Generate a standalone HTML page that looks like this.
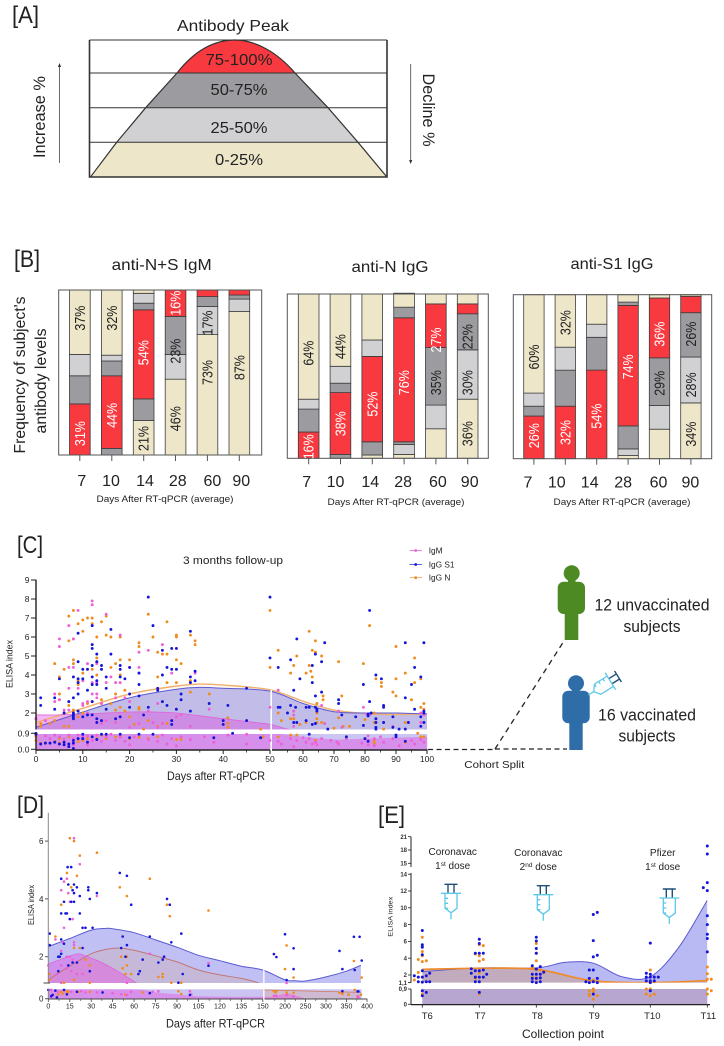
<!DOCTYPE html>
<html lang="en">
<head>
<meta charset="utf-8">
<title>Antibody kinetics figure</title>
<style>
html,body{margin:0;padding:0;background:#fff;width:724px;height:1046px;overflow:hidden}
svg{display:block;filter:blur(0.3px)}
text{font-family:"Liberation Sans",sans-serif;fill:#222}
</style>
</head>
<body>
<svg id="fig" xmlns="http://www.w3.org/2000/svg" width="724" height="1046" viewBox="0 0 724 1046">
<rect width="724" height="1046" fill="#fff"/>
<defs>
<clipPath id="bell"><path d="M90.7,176.7 L116.7,142.3 L145.7,107.7 L177,73 C195,50 215,40 235,40 C255,40 277,52 295,73 L328,107.7 L358,142.3 L386.7,176.7 Z"/></clipPath>
<clipPath id="cUpper"><rect x="36" y="570" width="392" height="159.5"/></clipPath>
<clipPath id="cLower"><rect x="36" y="734" width="392" height="15.5"/></clipPath>
<clipPath id="dUpper"><rect x="48" y="810" width="314" height="173"/></clipPath>
<clipPath id="dLower"><rect x="48" y="989.3" width="314" height="9.4"/></clipPath>
<clipPath id="eUpper"><rect x="422.3" y="835" width="285" height="147.6"/></clipPath>
</defs>

<g>
<text x="12" y="23" font-size="24" textLength="27" lengthAdjust="spacingAndGlyphs">[A]</text>
<text x="233" y="31" font-size="16" text-anchor="middle" textLength="112" lengthAdjust="spacingAndGlyphs">Antibody Peak</text>
<g clip-path="url(#bell)">
<rect x="89" y="40" width="299" height="33" fill="#f83a40"/>
<rect x="89" y="73" width="299" height="34.7" fill="#9c9ca0"/>
<rect x="89" y="107.7" width="299" height="34.6" fill="#d1d1d3"/>
<rect x="89" y="142.3" width="299" height="35" fill="#ede6c9"/>
</g>
<g stroke="#333" stroke-width="1" fill="none">
<path d="M89.5,73H387M89.5,107.7H387M89.5,142.3H387M89.5,40H387"/>
<path stroke-width="1.2" d="M90.7,176.7 L116.7,142.3 L145.7,107.7 L177,73 C195,50 215,40 235,40 C255,40 277,52 295,73 L328,107.7 L358,142.3 L386.7,176.7"/>
<path stroke-width="1.6" d="M89.5,40V177H387V40"/>
</g>
<text x="239" y="65" font-size="16" text-anchor="middle" textLength="67" lengthAdjust="spacingAndGlyphs">75-100%</text>
<text x="239" y="95" font-size="16" text-anchor="middle" textLength="57" lengthAdjust="spacingAndGlyphs">50-75%</text>
<text x="239" y="133" font-size="16" text-anchor="middle" textLength="57" lengthAdjust="spacingAndGlyphs">25-50%</text>
<text x="239" y="165" font-size="16" text-anchor="middle" textLength="48" lengthAdjust="spacingAndGlyphs">0-25%</text>
<text transform="translate(45,117) rotate(-90)" font-size="17" text-anchor="middle" textLength="82" lengthAdjust="spacingAndGlyphs">Increase %</text>
<text transform="translate(423,110) rotate(90)" font-size="17" text-anchor="middle" textLength="73" lengthAdjust="spacingAndGlyphs">Decline %</text>
<path d="M59.5,163V65" stroke="#444" stroke-width=".8" fill="none"/>
<path d="M59.5,63l-1.6,4h3.2z" fill="#333"/>
<path d="M410.7,64V162" stroke="#444" stroke-width=".8" fill="none"/>
<path d="M410.7,164l-1.6,-4h3.2z" fill="#333"/>
</g>

<g>
<text x="14" y="267" font-size="24" textLength="26" lengthAdjust="spacingAndGlyphs">[B]</text>
<text x="161.7" y="270" font-size="16" text-anchor="middle" textLength="100" lengthAdjust="spacingAndGlyphs">anti-N+S IgM</text>
<text x="390" y="272" font-size="16" text-anchor="middle" textLength="77" lengthAdjust="spacingAndGlyphs">anti-N IgG</text>
<text x="612" y="269" font-size="16" text-anchor="middle" textLength="83" lengthAdjust="spacingAndGlyphs">anti-S1 IgG</text>
<text transform="translate(25,375) rotate(-90)" font-size="16" text-anchor="middle" textLength="157" lengthAdjust="spacingAndGlyphs">Frequency of subject's</text>
<text transform="translate(46,381) rotate(-90)" font-size="16" text-anchor="middle" textLength="105" lengthAdjust="spacingAndGlyphs">antibody levels</text>
<text x="165" y="502" font-size="9.5" fill="#444" text-anchor="middle" textLength="137" lengthAdjust="spacingAndGlyphs">Days After RT-qPCR (average)</text>
<text x="396" y="505" font-size="9.5" text-anchor="middle" textLength="137" lengthAdjust="spacingAndGlyphs">Days After RT-qPCR (average)</text>
<text x="622" y="505" font-size="9.5" text-anchor="middle" textLength="137" lengthAdjust="spacingAndGlyphs">Days After RT-qPCR (average)</text>
<g id="stacks"></g>
</g>

<g>
<text x="17" y="553" font-size="24" textLength="26" lengthAdjust="spacingAndGlyphs">[C]</text>
<text x="233" y="564" font-size="11" text-anchor="middle" textLength="100" lengthAdjust="spacingAndGlyphs">3 months follow-up</text>
<text transform="translate(12.5,664) rotate(-90)" font-size="9" text-anchor="middle" textLength="48" lengthAdjust="spacingAndGlyphs">ELISA index</text>
<text x="216" y="780" font-size="12" text-anchor="middle" textLength="98" lengthAdjust="spacingAndGlyphs">Days after RT-qPCR</text>
<g id="chartC"></g>
<g>
<g><path d="M409.5,550.5H422" stroke="#e86fd8" stroke-width=".8"/><circle cx="415.7" cy="550.5" r="1.4" fill="#ee5fd8"/><text x="428.7" y="553.3" font-size="8.3">IgM</text></g>
<g><path d="M409.5,564.5H422" stroke="#3a3ad8" stroke-width=".8"/><circle cx="415.7" cy="564.5" r="1.4" fill="#1414dc"/><text x="428.7" y="567.3" font-size="8.3">IgG S1</text></g>
<g><path d="M409.5,577.7H422" stroke="#f0a050" stroke-width=".8"/><circle cx="415.7" cy="577.7" r="1.4" fill="#f08c1e"/><text x="428.7" y="580.5" font-size="8.3">IgG N</text></g>
</g>
</g>

<g>
<path d="M428,749.5H495" stroke="#222" stroke-width="1.3" stroke-dasharray="5 3.5" fill="none"/>
<path d="M495,749H567" stroke="#222" stroke-width="1.3" stroke-dasharray="5 3.5" fill="none"/>
<path d="M495,749L562.7,643" stroke="#222" stroke-width="1.3" stroke-dasharray="5.5 4.5" fill="none"/>
<text x="494.3" y="768" font-size="10.5" text-anchor="middle" textLength="60" lengthAdjust="spacingAndGlyphs">Cohort Split</text>
<g fill="#4e8a24">
<circle cx="571.7" cy="573.3" r="8"/><rect x="568" y="578" width="7.5" height="6"/><rect x="557.7" y="581.7" width="27.3" height="32.3" rx="6"/><rect x="564.7" y="605" width="13.6" height="35"/>
</g>
<g fill="#2e6da8">
<circle cx="576" cy="683.3" r="8"/><rect x="572" y="688" width="7.5" height="6"/><rect x="562.3" y="690.7" width="27.4" height="32.6" rx="6"/><rect x="569.3" y="715" width="13.4" height="35"/>
</g>
<text x="652" y="610.7" font-size="16.5" text-anchor="middle" textLength="115" lengthAdjust="spacingAndGlyphs">12 unvaccinated</text>
<text x="652" y="632" font-size="16.5" text-anchor="middle" textLength="57" lengthAdjust="spacingAndGlyphs">subjects</text>
<text x="647" y="720.7" font-size="16.5" text-anchor="middle" textLength="98" lengthAdjust="spacingAndGlyphs">16 vaccinated</text>
<text x="647" y="741.7" font-size="16.5" text-anchor="middle" textLength="57" lengthAdjust="spacingAndGlyphs">subjects</text>
<g id="syringeC"></g>
</g>

<g>
<text x="17" y="813" font-size="24" textLength="27" lengthAdjust="spacingAndGlyphs">[D]</text>
<text transform="translate(34,905) rotate(-90)" font-size="8" fill="#444" text-anchor="middle" textLength="40" lengthAdjust="spacingAndGlyphs">ELISA index</text>
<text x="215.5" y="1027.7" font-size="12" text-anchor="middle" textLength="99" lengthAdjust="spacingAndGlyphs">Days after RT-qPCR</text>
<g id="chartD"></g>
</g>

<g>
<text x="378" y="823" font-size="24" textLength="27" lengthAdjust="spacingAndGlyphs">[E]</text>
<text transform="translate(392.7,916.7) rotate(-90)" font-size="6.5" fill="#444" text-anchor="middle" textLength="40" lengthAdjust="spacingAndGlyphs">ELISA index</text>
<text x="563" y="1038" font-size="12" text-anchor="middle" textLength="82" lengthAdjust="spacingAndGlyphs">Collection point</text>
<g id="chartE"></g>
<text font-size="10" text-anchor="middle"><tspan x="452.7" y="855">Coronavac</tspan><tspan x="452.7" y="869">1<tspan font-size="6.5" dy="-3">st</tspan><tspan dy="3"> dose</tspan></tspan></text>
<text font-size="10" text-anchor="middle"><tspan x="538.3" y="856">Coronavac</tspan><tspan x="538.3" y="870">2<tspan font-size="6.5" dy="-3">nd</tspan><tspan dy="3"> dose</tspan></tspan></text>
<text font-size="10" text-anchor="middle"><tspan x="662.7" y="856">Pfizer</tspan><tspan x="662.7" y="870">1<tspan font-size="6.5" dy="-3">st</tspan><tspan dy="3"> dose</tspan></tspan></text>
<g id="syringesE"></g>
</g>
</svg>

<script>
/* ---------- Panel B data (levels: low 0-25, mid 25-50, high 50-75, peak 75-100) ---------- */
const barDays = ['7','10','14','28','60','90'];
const igmStacks = [
 [['peak',31],['high',17],['mid',13],['low',39]],
 [['high',4],['peak',44],['high',9],['mid',3.5],['low',39.5]],
 [['low',21],['high',13],['peak',54],['high',4],['mid',6],['low',2]],
 [['low',46],['mid',15],['high',23],['peak',16]],
 [['low',73],['mid',17],['high',6],['peak',4]],
 [['low',87],['mid',7.5],['high',2.5],['peak',3]]
];
const igmLabels = [['31%',13],['37%',83],['44%',24],['32%',83],['21%',10],['54%',62],['46%',22],['23%',63],['16%',92],['73%',50],['17%',80],['87%',53]];
const igmLabelBars = [0,0,1,1,2,2,3,3,3,4,4,5];
const antiNStacks = [
 [['peak',16],['high',14],['mid',6],['low',64]],
 [['high',2.4],['peak',37.6],['high',5.7],['mid',10.3],['low',44]],
 [['low',2],['high',8],['peak',52],['mid',10],['low',28]],
 [['low',2.4],['mid',6],['high',1.6],['peak',75.5],['high',6.5],['low',8.5]],
 [['low',18],['mid',14.4],['high',35],['peak',26.6],['low',6]],
 [['low',36],['mid',30],['high',22],['peak',6],['low',6]]
];
const antiNLabels = [['16%',7],['64%',64],['38%',21],['44%',68],['52%',33],['76%',46],['35%',46],['27%',72],['36%',15],['30%',46],['22%',74]];
const antiNLabelBars = [0,0,1,1,2,3,4,4,5,5,5];
const antiS1Stacks = [
 [['peak',26],['high',6],['mid',8],['low',60]],
 [['peak',32],['high',22],['mid',14],['low',32]],
 [['peak',54],['high',20],['mid',8],['low',18]],
 [['low',2],['mid',4],['high',14],['peak',73.5],['high',2],['low',4.5]],
 [['low',18],['mid',14.5],['high',29],['peak',36.5],['low',2]],
 [['low',34],['mid',28],['high',27],['peak',10],['low',1]]
];
const antiS1Labels = [['26%',14],['60%',62],['32%',16],['32%',83],['54%',26],['74%',56],['29%',46],['36%',76],['34%',15],['28%',45],['26%',76]];
const antiS1LabelBars = [0,0,1,1,2,3,4,4,5,5,5];

/* ---------- Panel C data ---------- */
const cXTicks = [0,10,20,30,40,50,60,70,80,90,100];
const cYTicks = [0,0.9,2,3,4,5,6,7,8,9];
const cYTickLabels = ['0.0','0.9','2','3','4','5','6','7','8','9'];
const cCurveDays = [0,10,20,30,35,40,50,60,70,80,90,100];
const cS1Curve = [1.25,2.05,2.8,3.25,3.35,3.3,3.15,2.5,2.07,2.0,2.0,1.95];
const cNCurve = [1.5,2.25,3.0,3.42,3.52,3.47,3.22,2.62,2.15,1.98,1.92,1.96];
const cIgMDays = [0,5,10,20,25,30,40,50,55,62];
const cIgMCurve = [1.9,1.9,1.95,2.05,2.05,2.0,1.7,1.4,1.15,0.95];
const cIgMLowDays = [0,50,52,60,70,80,100];
const cIgMLow = [0.9,0.9,0.88,0.7,0.55,0.6,0.7];
const cS1Points = [[1,2.8],[1,2.4],[4,2.8],[4,2.2],[5,3.8],[6,2],[7,2.6],[8,3.9],[8,2.8],[8,2],[8,1.9],[8,1.8],[8,1.7],[9,6.2],[9,4.7],[9,3.8],[9,3],[9,2.1],[9,3.6],[10,3.8],[10,1.8],[10,4.3],[11,4.3],[11,3.2],[11,1.9],[12,6.6],[12,5.6],[12,5.4],[12,4.5],[12,3.9],[12,3.5],[12,2.6],[12,1.9],[13,5.1],[13,4.7],[13,3.7],[13,3.5],[13,1.7],[13,1.5],[14,4.5],[14,4.3],[14,1.6],[15,3.9],[15,3.3],[15,2.2],[16,6.4],[16,5.1],[17,1.7],[18,4.5],[18,4.3],[18,3.9],[18,1.8],[19,3.8],[20,4.4],[20,3],[20,2.3],[22,4.1],[22,3.5],[22,2.9],[23,1.9],[24,8.1],[24,2.3],[25,6.6],[26,3.3],[26,3.2],[27,5.3],[27,4],[27,2.6],[28,4.4],[28,2.4],[29,5.4],[29,4.3],[29,1.6],[29,1.4],[30,5.4],[30,4.3],[30,2.2],[31,2.7],[31,3],[33,6.3],[33,3.9],[33,3.6],[33,2.1],[34,4.2],[34,3.7],[37,2.5],[41,2.4],[45,3.3],[45,1.6],[40,1.6],[40,1.4],[50,8.1],[50,4.9],[52,4.4],[56,4.8],[58,5.9],[63,4.5],[64,5.1],[66,4.7],[67,5.7],[59,3.8],[63,3.6],[57,3.2],[64,2.9],[66,3.1],[71.5,2.7],[71.5,2.5],[72.5,1.9],[81.5,7.4],[79.5,3.5],[81.5,2.6],[83.5,4.0],[85.3,3.8],[86,2.4],[86,2.3],[93,5.7],[99,5.7],[96,4.4],[98,3.9],[95,3.5],[93,2.8],[96,2.2],[52.6,2.3],[52,2.3],[55,2],[56,2.4],[57.6,2.3],[57,1.5],[58,1.5],[61,2.3],[62,2.3],[64,2.3],[64.5,2.2],[64.5,2.1],[61,1.6],[63,1.4],[64,1.45],[68,1.15],[77,1.8],[79.5,1.35],[81,1.95],[81,1.85],[82,2],[83.5,1.7],[83.5,1.5],[83.5,1.25],[83.5,1.15],[86,1.5],[89,1.8],[89,1.25],[91,1.15],[93,1.15],[94,1.5],[98,1.8],[99,2.1],[99,2],[99,1.5],[98,1.3],[0,.9],[0,.85],[1,.3],[2,.35],[3,.35],[4,.4],[5,.3],[6,.25],[6,.4],[7,.15],[7,.3],[8,.05],[8,.35],[8,.5],[9,.6],[10,.6],[10,.85],[11,.4],[12,.7],[13,.55],[14,.85],[15,.85],[18,.85],[20,.65],[22,.85],[25,.85],[38,.65],[42,.9],[48,.65],[62,.85],[74,.7],[80,.6],[81,.45],[90,.7],[90,.8],[93,.45]];
const cNPoints = [[1,1.45],[4,4.6],[5,3],[5,3.9],[6,4.3],[8,7.4],[7,7.1],[7,5.8],[8,5.9],[9,6.7],[10,6.9],[10,6.3],[11,7],[12,7],[12,6.7],[13,6],[14,6.8],[15,7.1],[15,6.1],[16,6],[18,6],[8,4.8],[8,4.6],[9,3.7],[9,3.5],[10,4.1],[11,4.3],[12,4.3],[13,4.9],[13,4.7],[14,4.3],[13,4],[17,4.6],[18,4.8],[20,4.8],[18,4],[16,4.4],[22,5.7],[22,5.5],[24,7.2],[25,6],[26,5.2],[27,5.1],[28,6.8],[28,5.1],[30,6.1],[30,6],[30,4.8],[31,4.6],[33,6.1],[34,5.8],[34,5.6],[26,3.9],[28,3.6],[30,3.6],[33,3.7],[33,3.1],[37,3],[17,3],[19,3.2],[7,2.4],[8,2.15],[9,1.8],[10,2],[11,2.5],[12,2.6],[14,2.7],[14,2.5],[16,2.5],[17,2.15],[18,2.3],[19,2.1],[22,2.3],[22,2.2],[24,1.6],[26,1.3],[27,1.45],[28,1.45],[29,1.6],[30,1.8],[30,2.2],[23,1.15],[21,1.4],[20,1.8],[5,2.7],[6,1.3],[7,1.3],[8,1.7],[1,1.3],[3,1.45],[4,1.6],[0,1.7],[41,1.75],[41,1.45],[41,1.25],[48,1.15],[50,7.4],[50,4.4],[52,5.3],[58,5],[57,4.5],[56,4.1],[62,6.3],[64,5.8],[63,5.3],[64,5.2],[66,5],[62,4.5],[62.5,4.2],[63,3.9],[61,4.1],[71.5,4.7],[79.5,4.6],[81.5,6.6],[83.5,3.8],[85.3,3.6],[85.3,3.4],[90,5.5],[96,4.9],[90,3.8],[93,4.1],[98,3.8],[89,3.1],[90,2.9],[96,3.6],[95,2.7],[72.5,2.9],[66.5,2.9],[66.5,2.7],[64.5,2.5],[52,2],[56,1.7],[57,1.7],[53,1.6],[59,1.4],[61,1.5],[64.5,2],[64.5,1.7],[64.5,1.5],[66,1.5],[71.5,1.75],[70,1.2],[73,1.3],[75,1.3],[80,1.65],[83,2],[83,1.5],[86,1.15],[93,1.5],[98,2.3],[99,2.5],[99,2.2],[98,2],[0,.7],[0,.5],[1,.35],[2,.35],[4,.43],[5,.35],[5,.6],[6,.43],[7,.7],[8,.5],[9,.43],[10,.5],[11,.6],[12,.7],[13,.6],[14,.8],[15,.6],[17,.7],[18,.7],[20,.6],[22,.68],[24,.6],[26,.7],[30,.55],[31,.55],[48.5,.7],[52,.7],[56,.8],[58,.8],[64,.5],[74,.7],[80,.6],[83,.35],[83,.5],[93,.4],[97,.9],[98,.7],[99,.7]];
const cIgMPoints = [[12,7.9],[12,7.7],[9,7.4],[15,7.2],[5,5.9],[5,5.5],[7,6.6],[18,6.1],[8,5.9],[27,5.6],[24,5.3],[22,5.2],[7,4.4],[8,4.4],[7,3.3],[4,3],[5,2.7],[6,2.15],[9,3.3],[10,3.7],[11,4.6],[12,3.6],[13,4.6],[13,3.6],[15,3.6],[16,3.9],[17,3.6],[18,3.6],[22,4.4],[22,4.1],[20,4.4],[34,4.1],[29,4.1],[4,2.6],[10,2.5],[11,2.6],[10,2.4],[12,3],[13,3],[13,2.8],[14,2.5],[17,2.8],[19,2.8],[20,2.6],[24,2.1],[26,2.5],[27,1.45],[30,1.8],[31,1.9],[33,1.3],[37,2.2],[0,1.7],[2,1.6],[7,2.15],[8,2],[11,2],[12,1.9],[14,1.45],[15,1.6],[17,1.5],[20,1.25],[22,1.45],[25,1.5],[26,1.25],[57,2.1],[57,1.9],[50,2.3],[52,3.2],[66,2.4],[67,1.45],[71.5,2.1],[72.5,1.25],[57,1.3],[80.5,1.95],[81.5,1.9],[79.5,2.3],[98,1.5],[98,1.3],[89,1.3],[98,2],[99,1.9],[0,.8],[2,.75],[3,.6],[4,.8],[5,.7],[6,.55],[7,.8],[8,.6],[8,.25],[9,.8],[10,.7],[11,.25],[11,.75],[12,.5],[13,.8],[14,.45],[15,.7],[16,.85],[17,.5],[18,.7],[19,.45],[20,.25],[21,.7],[24,.55],[26,.45],[27,.8],[28,.3],[29,.6],[30,.2],[31,.7],[33,.55],[36,.7],[38,.4],[41,.8],[45,.3],[45,.85],[50,.5],[52,.45],[53,.3],[56,.6],[57,.15],[58,.5],[60,.65],[61,.4],[62,.6],[63,.3],[64,.4],[64.5,.25],[66,.6],[69,.5],[71,.4],[71.5,.3],[74,.6],[79,.35],[81,.75],[81,.5],[81,.25],[83,.6],[83,.2],[85,.7],[86,.4],[89,.6],[91,.2],[95,.5],[96,.3],[98,.55],[99,.4]];

/* ---------- Panel D data ---------- */
const dXTicksA = [0,15,30,45,60,75,90,105,120,135,150];
const dXTicksB = [200,250,300,350,400];
const dYTicks = [0,2,4,6];
const dS1Days = [0,15,30,40,45,60,75,90,105,120,135,150,200,225,250,300,350,385];
const dS1Curve = [2.35,2.63,2.92,2.98,2.97,2.83,2.58,2.33,2.05,1.86,1.67,1.54,1.2,1.17,1.16,1.3,1.5,1.7];
const dNDays = [0,15,30,40,50,60,75,90,105,120,135,147];
const dNCurve = [1.2,1.68,2.1,2.25,2.3,2.22,2.03,1.82,1.54,1.37,1.25,1.1];
const dIgMDays = [0,10,20,25,35,45,55,62];
const dIgMCurve = [1.75,1.93,2.1,2.05,1.85,1.6,1.3,1.08];
const dIgMLowDays = [0,60,75,90,105,150,175,200,221,250];
const dIgMLow = [0.75,0.75,0.5,0.35,0.2,0.15,0.2,0.4,0.3,0.02];
const dNLowDays = [150,385];
const dNLow = [0.7,0.5];
const dS1Points = [[1,2.8],[1,2.4],[9,2.6],[11,2.45],[9,3.5],[12,3.5],[13,3.5],[15,3.3],[9,4.7],[13.5,5.1],[16,5.1],[14,4.5],[18,4.5],[20,4.4],[17,4.3],[18,4.2],[16,3.9],[18,3.9],[11,3.9],[22,4.1],[22,3.5],[24,3],[26,3],[31,3],[28,4.4],[28,4.3],[29,4],[34,4.2],[50,4.9],[55,4.8],[58,3.8],[83,4],[85,3.8],[93,2.8],[52,2.7],[71,2.7],[55,2.4],[51,2.3],[24,2.3],[86,2.5],[54,2],[66,1.9],[81,2],[80,1.9],[77,1.8],[7,2],[8,2],[9,2.1],[20,1.8],[17,1.8],[14,1.7],[7,1.5],[29,1.5],[64,1.5],[63,1.4],[94,1.4],[91,1.1],[112,1.69],[200,2.78],[221,2.29],[173,2.09],[179,1.99],[221,1.57],[204,1.19],[333,2.2],[368,2.69],[382,2.69],[387,1.87],[340,1.57],[370,1.54],[0,.7],[5,.65],[2,.2],[3,.3],[6,.1],[11,.7],[13,.35],[20,.55],[38,.5],[71,.45],[99,.3],[340,.6],[377,.58],[379,.58]];
const dNPoints = [[15,6.1],[18,6],[22,5.5],[34,5.6],[20,4.8],[13,4.9],[16,4.4],[9,3.8],[5,2.7],[50,4.4],[55,4.1],[71,4.7],[83,3.8],[85,3.4],[18,2.3],[22,2.3],[51,2],[55,2],[26,1.9],[29,1.7],[55,1.7],[52,1.6],[1,1.4],[6,1.4],[54,1.4],[58,1.4],[80,1.4],[77,1.3],[80,1.3],[18,1.2],[1,1.2],[11,1.1],[29,1.1],[86,1.1],[93,1.1],[112,3.6],[204,2.39],[200,1.57],[221,1.28],[368,1.85],[387,1.28],[13,.6],[14,.55],[9,.55],[10,.4],[13,.4],[21,.55],[29,.55],[3,.3],[7,.35],[91,.6],[66,.5],[93,.38],[54,.32],[173,.6],[179,.58],[177,.52],[204,.5],[205,.35],[221,.48],[333,.48],[340,.4],[355,.32],[370,.7],[377,.16],[385,.32]];
const dIgMPoints = [[18,6.1],[22,5.2],[11,4.6],[13,4.7],[9,4.3],[14,4.2],[15,3.9],[17,3.3],[11,3],[34,4.1],[5,2.6],[18,2.5],[10,2.5],[9,2.2],[18,2.4],[13,2],[15,2],[17,1.9],[0,1.7],[9,1.7],[13,1.6],[16,1.5],[20,1.4],[24,1.4],[6,1.4],[9,1.1],[55,1.1],[71,2.1],[112,1.78],[204,1.09],[2,.7],[7,.55],[16,.55],[23,.6],[26,.5],[34,.5],[45,.45],[58,.55],[73,.55],[77,.6],[99,.6],[51,.35],[55,.3],[100,.35],[173,.24],[179,.24],[204,.3],[221,.2],[377,.2],[379,.13]];

/* ---------- Panel E data ---------- */
const eCategories = ['T6','T7','T8','T9','T10','T11'];
const eYTicks = [0,0.9,1.1,2,4,6,8,10,12,14,15,18,21];
const eYTickLabels = ['0','0,9','1,1','2','4','6','8','10','12','14','15','18','21'];
const eS1Positions = [0,1,2,2.5,3,3.5,4,4.5,5];
const eS1Curve = [2.4,2.85,2.85,3.5,3.4,1.8,1.8,5.3,10.9];
const eNPositions = [0,1,2,3,4,5];
const eNCurve = [2.67,2.8,2.67,1.3,1.1,1.33];
const eS1Points = [[0,7.3],[0,5.6],[0,5.3],[0,4.4],[0,2.5],[-.14,1.9],[-.07,1.75],[0,1.75],[.07,1.9],[.13,2.2],[-.07,1.2],[0,1.15],[.07,1.2],[.13,1.2],[0,.8],[.07,.7],[0,.5],
[1,6.25],[1,5.75],[.93,4.6],[1,4.6],[1.07,4.6],[.86,2.75],[.93,2.5],[1,2.5],[1.07,2.6],[.86,2.2],[1.13,2.1],[.93,1.75],[1,1.75],[1.07,1.75],[.93,1.2],[1,1.2],[1,.7],
[2,6.5],[2,6.05],[2,5.15],[2,4.6],[1.93,3.1],[2.07,3],[2,2.7],[1.93,2.1],[2,2.1],[2.07,2.1],[2.13,2.35],[1.93,1.6],[2,1.6],[2.07,1.65],[1.93,1.2],[2,1.1],[2.07,1.2],
[3.07,9.45],[3,9.2],[3,6.1],[3,4.15],[3.07,4.35],[2.93,2.6],[3,2.6],[2.93,1.6],[3.07,1.6],[3,1.2],[3.07,1.1],[2.87,1.2],[2.93,1.1],[3,.6],
[4,5.8],[3.93,2.2],[4,2.1],[3.93,1.75],[4,1.75],[4.07,1.75],[4.14,1.75],[3.93,1.3],[4,1.3],[4.07,1.3],[4,1.1],[4,.8],
[5,18.9],[5,17.1],[5,13],[4.93,12.4],[5,12.05],[5,9.05],[5,8],[5,6.85],[5,6.35],[5,4.75]];
const eNPoints = [[0,6.5],[0,5.4],[0,4.8],[0,4.3],[-.07,3.85],[0,3.6],[.07,3.7],[-.07,2.3],[-.14,1.4],[0,.6],
[1,5.6],[1.07,5.5],[.93,4.5],[1,4.3],[1.07,3.85],[1,3.65],[1,2.3],[.93,1.6],[1,.6],
[2,5.75],[2,4.6],[2,3.7],[1.93,2.85],[2.07,2.6],[2.13,2.3],[1.93,1.7],[2,1.65],[2,1.15],
[3,.9],[2.93,.8],[3,.75],[2.93,.6],[3,.3],[2.93,.5],[3.07,.5],[3,1.4],
[4,2.6],[3.93,.9],[4,.9],[3.93,.6],[4,.5],[4.07,.6],[4,1.15],[4.07,1.2],
[5,2.95],[5,2.15],[5,1.5],[5.07,1.5],[5,.9],[5.07,.8],[5,.6]];

/* ---------- drawing helpers ---------- */
const NS = 'http://www.w3.org/2000/svg';
function mk(parent, tag, attrs, name, txt){
  const el = document.createElementNS(NS, tag);
  for (const k in attrs) el.setAttribute(k, attrs[k]);
  
  
  if (txt !== undefined) el.textContent = txt;
  parent.appendChild(el);
  return el;
}
function smooth(pts){
  let d = 'M' + pts[0][0].toFixed(1) + ',' + pts[0][1].toFixed(1);
  for (let i = 0; i < pts.length - 1; i++){
    const p0 = pts[Math.max(0,i-1)], p1 = pts[i], p2 = pts[i+1], p3 = pts[Math.min(pts.length-1,i+2)];
    const c1x = p1[0] + (p2[0]-p0[0])/6, c1y = p1[1] + (p2[1]-p0[1])/6;
    const c2x = p2[0] - (p3[0]-p1[0])/6, c2y = p2[1] - (p3[1]-p1[1])/6;
    d += 'C' + c1x.toFixed(1) + ',' + c1y.toFixed(1) + ' ' + c2x.toFixed(1) + ',' + c2y.toFixed(1) + ' ' + p2[0].toFixed(1) + ',' + p2[1].toFixed(1);
  }
  return d;
}
function mapCurve(xs, ys, fx, fy){ return xs.map((x,i)=>[fx(x), fy(ys[i])]); }
function areaD(pts, base){ return smooth(pts) + 'L' + pts[pts.length-1][0].toFixed(1) + ',' + base + 'L' + pts[0][0].toFixed(1) + ',' + base + 'Z'; }
function dots(parent, points, fx, fy, color, name, r){
  points.forEach(p => { mk(parent, 'circle', {cx: fx(p[0]).toFixed(1), cy: fy(p[1]).toFixed(1), r: r, fill: color}, name); });
}

/* ---------- Panel B ---------- */
const levelColors = {low:'#ede6c9', mid:'#d1d1d3', high:'#9c9ca0', peak:'#f83a40'};
function drawStack(cfg){
  const root = document.getElementById('stacks');
  const g = mk(root, 'g', {}, cfg.name);
  const yS = v => cfg.bottom - v/100*(cfg.bottom-cfg.top);
  const xS = i => cfg.first + i*cfg.step;
  mk(g, 'rect', {x:cfg.left, y:cfg.top, width:cfg.right-cfg.left, height:cfg.bottom-cfg.top, fill:'#fff', stroke:'none'}, cfg.name + '-plot');
  cfg.stacks.forEach((st,i) => {
    let acc = 0;
    st.forEach(seg => {
      mk(g, 'rect', {x:xS(i).toFixed(1), y:yS(acc+seg[1]).toFixed(1), width:cfg.barW, height:(yS(acc)-yS(acc+seg[1])).toFixed(1), fill:levelColors[seg[0]], stroke:'#3c3c3c', 'stroke-width':0.8}, cfg.name + '-bar-' + cfg.days[i] + '-' + seg[0]);
      acc += seg[1];
    });
    mk(g, 'path', {d:'M'+(xS(i)+cfg.barW/2).toFixed(1)+','+cfg.bottom+'v6', stroke:'#555', 'stroke-width':1}, cfg.name + '-tick-' + cfg.days[i]);
    const lx = xS(i)+cfg.barW/2+cfg.labelDx[i];
    mk(g, 'text', {x:lx.toFixed(1), y:cfg.tickY, 'font-size':16, 'text-anchor':'middle'}, cfg.name + '-tick-label-' + cfg.days[i], cfg.days[i]);
  });
  mk(g, 'rect', {x:cfg.left, y:cfg.top, width:cfg.right-cfg.left, height:cfg.bottom-cfg.top, fill:'none', stroke:'#555', 'stroke-width':1}, cfg.name + '-frame');
  cfg.labels.forEach((l,k) => {
    const bar = cfg.labelBars[k];
    const peak = isOnPeak(cfg.stacks[bar], l[1]);
    const t = mk(g, 'text', {transform:'translate(' + (xS(bar)+cfg.barW/2+5).toFixed(1) + ',' + yS(l[1]).toFixed(1) + ') rotate(-90)', 'font-size':15, 'text-anchor':'middle', textLength:25, lengthAdjust:'spacingAndGlyphs'}, cfg.name + '-value-label', l[0]);
    t.style.fill = peak ? '#fff' : '#222';
  });
}
function isOnPeak(stack, at){
  let acc = 0;
  for (const seg of stack){
    if (at >= acc && at <= acc+seg[1]) return seg[0]==='peak';
    acc += seg[1];
  }
  return false;
}
drawStack({name:'igm-chart', days:barDays, stacks:igmStacks, labels:igmLabels, labelBars:igmLabelBars, left:58.7, right:261.7, top:290, bottom:455, first:69.5, step:31.9, barW:20.7, tickY:486, labelDx:[2,-0.7,1.3,2.3,5,2]});
drawStack({name:'anti-n-chart', days:barDays, stacks:antiNStacks, labels:antiNLabels, labelBars:antiNLabelBars, left:287.3, right:488.3, top:294, bottom:458.3, first:298.3, step:31.8, barW:20.7, tickY:487, labelDx:[-2,-5,-2,-1,2,2]});
drawStack({name:'anti-s1-chart', days:barDays, stacks:antiS1Stacks, labels:antiS1Labels, labelBars:antiS1LabelBars, left:513.3, right:711.7, top:294.7, bottom:458.7, first:523.7, step:31.4, barW:20.4, tickY:487.5, labelDx:[-6,-8.5,-7,-5,-1,-0.5]});

/* ---------- Panel C ---------- */
(function(){
  const g = document.getElementById('chartC');
  const xC = d => d<=50 ? 36 + d*4.68 : 272 + (d-50)*3.1;
  const yC = v => v>=1 ? 713 - (v-2)*19 : 749.3 - v*17.8;
  const upper = mk(g, 'g', {'clip-path':'url(#cUpper)'}, 'upper-band-areas');
  const lower = mk(g, 'g', {'clip-path':'url(#cLower)'}, 'lower-band-areas');
  mk(upper, 'path', {d:areaD(mapCurve(cCurveDays,cNCurve,xC,yC),760), fill:'rgba(240,170,80,.08)'}, 'igg-n-area');
  mk(upper, 'path', {d:areaD(mapCurve(cCurveDays,cS1Curve,xC,yC),760), fill:'rgba(80,75,215,.34)'}, 'igg-s1-area');
  mk(upper, 'path', {d:areaD(mapCurve(cIgMDays,cIgMCurve,xC,yC),760), fill:'rgba(225,70,225,.4)'}, 'igm-area');
  mk(lower, 'rect', {x:36, y:733, width:391.3, height:17, fill:'rgba(100,85,215,.34)'}, 'igg-lower-area');
  mk(lower, 'path', {d:areaD(mapCurve(cIgMLowDays,cIgMLow,xC,yC),760), fill:'rgba(230,70,225,.42)'}, 'igm-lower-area');
  mk(upper, 'path', {d:smooth(mapCurve(cCurveDays,cNCurve,xC,yC)), fill:'none', stroke:'#f0b070', 'stroke-width':1.4}, 'igg-n-line');
  mk(upper, 'path', {d:smooth(mapCurve(cCurveDays,cS1Curve,xC,yC)), fill:'none', stroke:'#5a5ad2', 'stroke-width':1}, 'igg-s1-line');
  mk(upper, 'path', {d:smooth(mapCurve(cIgMDays,cIgMCurve,xC,yC)), fill:'none', stroke:'#e060d8', 'stroke-width':.8}, 'igm-line');
  mk(g, 'rect', {x:270.4, y:690, width:1.6, height:60, fill:'#fff'}, 'x-axis-break');
  dots(g, cNPoints, xC, yC, '#f08c1e', 'igg-n-point', 1.45);
  dots(g, cIgMPoints, xC, yC, '#ee5fd8', 'igm-point', 1.45);
  dots(g, cS1Points, xC, yC, '#1414dc', 'igg-s1-point', 1.45);
  mk(g, 'path', {d:'M36,579.7V729.5M36,733V750.5', stroke:'#222', 'stroke-width':1.4, fill:'none'}, 'y-axis');
  mk(g, 'path', {d:'M36,750H270M272,750H427.5', stroke:'#222', 'stroke-width':1.4, fill:'none'}, 'x-axis');
  cYTicks.forEach((v,i)=>{
    mk(g, 'path', {d:'M31,'+yC(v).toFixed(1)+'H36', stroke:'#222', 'stroke-width':1}, 'y-tick');
    mk(g, 'text', {x:29.5, y:(yC(v)+3).toFixed(1), 'font-size':8.5, 'text-anchor':'end'}, 'y-tick-label', cYTickLabels[i]);
  });
  cXTicks.forEach(d=>{
    mk(g, 'path', {d:'M'+xC(d).toFixed(1)+',750v4', stroke:'#222', 'stroke-width':1}, 'x-tick');
    mk(g, 'text', {x:xC(d).toFixed(1), y:762, 'font-size':8.5, 'text-anchor':'middle'}, 'x-tick-label', d);
    if (d<100) mk(g, 'path', {d:'M'+xC(d+5).toFixed(1)+',750v2.5', stroke:'#222', 'stroke-width':.8}, 'x-minor-tick');
  });
})();

/* ---------- syringe ---------- */
function syringe(parent, cx, y0, transform, name){
  const s = mk(parent, 'g', transform ? {transform:transform} : {}, name);
  mk(s, 'path', {d:'M'+(cx-6.5)+','+y0+'h13M'+(cx-3)+','+y0+'v8.5M'+(cx+3)+','+y0+'v8.5', stroke:'#1f4f78', 'stroke-width':1.4, fill:'none'}, 'syringe-plunger');
  mk(s, 'path', {d:'M'+(cx-10)+','+(y0+9)+'h20M'+(cx-6)+','+(y0+9)+'v15l6,4.5l6,-4.5v-15M'+cx+','+(y0+28.5)+'v6.5M'+(cx-6)+','+(y0+14)+'h3M'+(cx-6)+','+(y0+19)+'h3M'+(cx-6)+','+(y0+24)+'h3', stroke:'#5cc8e8', 'stroke-width':1.3, fill:'none'}, 'syringe-barrel');
}
syringe(document.getElementById('syringeC'), 0, 0, 'translate(588.3,695) rotate(58) translate(0,-35)', 'vaccination-syringe');
(function(){
  const g = document.getElementById('syringesE');
  syringe(g, 451, 884.3, '', 'syringe-coronavac-dose-1');
  syringe(g, 543.3, 885.7, '', 'syringe-coronavac-dose-2');
  syringe(g, 669.3, 889, '', 'syringe-pfizer-dose-1');
})();

/* ---------- Panel D ---------- */
(function(){
  const g = document.getElementById('chartD');
  const xD = d => d<=150 ? 48.3 + d*1.43 : 264.5 + (d-150)*0.41;
  const yD = v => v>=1 ? 956.7 - (v-2)*28.9 : 998.7 - v*12.53;
  const upper = mk(g, 'g', {'clip-path':'url(#dUpper)'}, 'upper-band-areas');
  const lower = mk(g, 'g', {'clip-path':'url(#dLower)'}, 'lower-band-areas');
  mk(upper, 'path', {d:areaD(mapCurve(dS1Days,dS1Curve,xD,yD),1000), fill:'rgba(80,80,225,.36)'}, 'igg-s1-area');
  mk(upper, 'path', {d:areaD(mapCurve(dNDays,dNCurve,xD,yD),1000), fill:'rgba(230,150,90,.18)'}, 'igg-n-area');
  mk(upper, 'path', {d:areaD(mapCurve(dIgMDays,dIgMCurve,xD,yD),1000), fill:'rgba(235,70,225,.4)'}, 'igm-area');
  mk(lower, 'rect', {x:48.3, y:989, width:313.4, height:10, fill:'rgba(110,90,215,.36)'}, 'igg-lower-area');
  mk(lower, 'path', {d:areaD(mapCurve(dNLowDays,dNLow,xD,yD),1000), fill:'rgba(230,150,90,.2)'}, 'igg-n-lower-area');
  mk(lower, 'path', {d:areaD(mapCurve(dIgMLowDays,dIgMLow,xD,yD),1000), fill:'rgba(235,70,225,.4)'}, 'igm-lower-area');
  mk(lower, 'path', {d:smooth(mapCurve(dNLowDays,dNLow,xD,yD)), fill:'none', stroke:'#d07858', 'stroke-width':.8}, 'igg-n-lower-line');
  mk(upper, 'path', {d:smooth(mapCurve(dS1Days,dS1Curve,xD,yD)), fill:'none', stroke:'#5a5ad2', 'stroke-width':1}, 'igg-s1-line');
  mk(upper, 'path', {d:smooth(mapCurve(dNDays,dNCurve,xD,yD)), fill:'none', stroke:'#c07878', 'stroke-width':1}, 'igg-n-line');
  mk(upper, 'path', {d:smooth(mapCurve(dIgMDays,dIgMCurve,xD,yD)), fill:'none', stroke:'#e060d8', 'stroke-width':.7}, 'igm-line');
  mk(g, 'rect', {x:263.2, y:960, width:1.3, height:40, fill:'#fff'}, 'x-axis-break');
  dots(g, dNPoints, xD, yD, '#f08c1e', 'igg-n-point', 1.3);
  dots(g, dIgMPoints, xD, yD, '#ee5fd8', 'igm-point', 1.3);
  dots(g, dS1Points, xD, yD, '#1414dc', 'igg-s1-point', 1.3);
  mk(g, 'path', {d:'M48.3,812.7V983M48.3,989V999', stroke:'#888', 'stroke-width':1, fill:'none'}, 'y-axis');
  mk(g, 'path', {d:'M48.3,999H263M264.5,999H367.3', stroke:'#444', 'stroke-width':1, fill:'none'}, 'x-axis');
  mk(g, 'path', {d:'M43.5,983H50', stroke:'#444', 'stroke-width':1}, 'y-break-tick');
  dYTicks.forEach(v=>{
    mk(g, 'path', {d:'M45,'+yD(v).toFixed(1)+'H48.3', stroke:'#555', 'stroke-width':1}, 'y-tick');
    mk(g, 'text', {x:43.5, y:(yD(v)+3).toFixed(1), 'font-size':8, 'text-anchor':'end'}, 'y-tick-label', v);
  });
  dXTicksA.forEach(d=>{
    mk(g, 'path', {d:'M'+xD(d).toFixed(1)+',999v3', stroke:'#444', 'stroke-width':.8}, 'x-tick');
    mk(g, 'text', {x:xD(d).toFixed(1), y:1008.5, 'font-size':7, 'text-anchor':'middle'}, 'x-tick-label', d);
    if (d<150) mk(g, 'path', {d:'M'+xD(d+7.5).toFixed(1)+',999v2', stroke:'#444', 'stroke-width':.6}, 'x-minor-tick');
  });
  dXTicksB.forEach(d=>{
    mk(g, 'path', {d:'M'+xD(d).toFixed(1)+',999v3', stroke:'#444', 'stroke-width':.8}, 'x-tick');
    mk(g, 'text', {x:xD(d).toFixed(1), y:1008.5, 'font-size':7, 'text-anchor':'middle'}, 'x-tick-label', d);
    mk(g, 'path', {d:'M'+xD(d-25).toFixed(1)+',999v2', stroke:'#444', 'stroke-width':.6}, 'x-minor-tick');
  });
})();

/* ---------- Panel E ---------- */
(function(){
  const g = document.getElementById('chartE');
  const xE = c => 422.3 + c*57;
  const yE = v => v>=15 ? 863.3 - (v-15)*4.43 : v>=1 ? 975 - (v-2)*8.4 : 1004.3 - v*17;
  const upper = mk(g, 'g', {'clip-path':'url(#eUpper)'}, 'upper-band-areas');
  mk(upper, 'path', {d:areaD(mapCurve(eS1Positions,eS1Curve,xE,yE),990), fill:'rgba(80,80,225,.4)'}, 'igg-s1-area');
  mk(upper, 'path', {d:areaD(mapCurve(eNPositions,eNCurve,xE,yE),990), fill:'rgba(225,130,40,.26)'}, 'igg-n-area');
  mk(g, 'rect', {x:xE(0), y:989, width:xE(5)-xE(0), height:15, fill:'#b7a6d0'}, 'lower-band-area');
  mk(upper, 'path', {d:smooth(mapCurve(eS1Positions,eS1Curve,xE,yE)), fill:'none', stroke:'#5a5ad2', 'stroke-width':1}, 'igg-s1-line');
  mk(upper, 'path', {d:smooth(mapCurve(eNPositions,eNCurve,xE,yE)), fill:'none', stroke:'#f08a28', 'stroke-width':1.7}, 'igg-n-line');
  dots(g, eNPoints, xE, yE, '#f08c1e', 'igg-n-point', 1.5);
  dots(g, eS1Points, xE, yE, '#1414dc', 'igg-s1-point', 1.5);
  mk(g, 'path', {d:'M411,836.7V867M411,873V982.7M411,989V1004.5', stroke:'#222', 'stroke-width':1, fill:'none'}, 'y-axis');
  mk(g, 'path', {d:'M411,1004.6H710', stroke:'#222', 'stroke-width':1.2, fill:'none'}, 'x-axis');
  eYTicks.forEach((v,i)=>{
    mk(g, 'path', {d:'M408,'+yE(v).toFixed(1)+'H411', stroke:'#222', 'stroke-width':.8}, 'y-tick');
    const t = mk(g, 'text', {x:407, y:(yE(v)+2.2).toFixed(1), 'font-size':6, 'font-weight':'bold', 'text-anchor':'end'}, 'y-tick-label', eYTickLabels[i]);
    t.style.fill = '#333';
  });
  const dx = [5,1,1,1,2,1];
  eCategories.forEach((c,i)=>{
    mk(g, 'path', {d:'M'+xE(i).toFixed(1)+',1004.6v3', stroke:'#222', 'stroke-width':.8}, 'x-tick');
    mk(g, 'text', {x:(xE(i)+dx[i]).toFixed(1), y:1019, 'font-size':9.5, 'text-anchor':'middle'}, 'x-tick-label', c);
  });
})();
</script>
</body>
</html>
